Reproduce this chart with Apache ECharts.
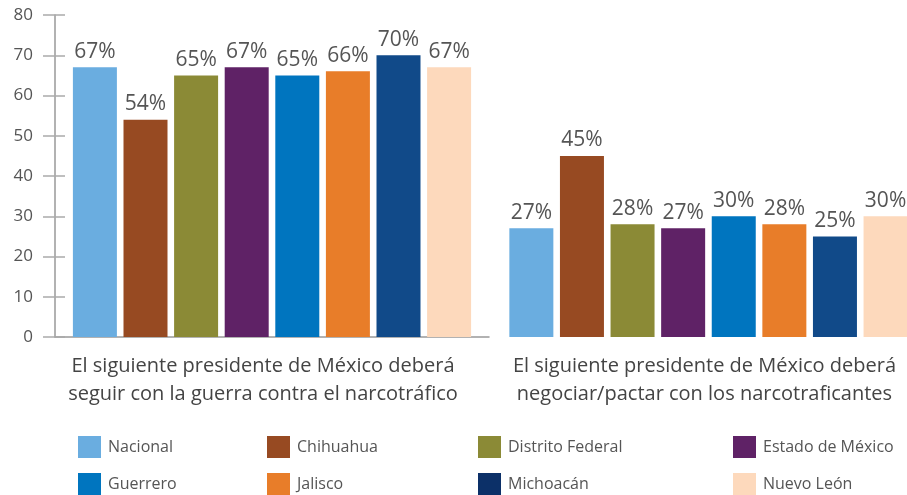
<!DOCTYPE html>
<html>
<head>
<meta charset="utf-8">
<script src="https://cdn.jsdelivr.net/npm/echarts@6/dist/echarts.min.js"></script>
<style>html,body{margin:0;padding:0;background:#fff;}#c{width:907px;height:495px;}</style>
</head>
<body>
<div id="c"></div>
<script>
var categories = [
  'El siguiente presidente de México deberá\nseguir con la guerra contra el narcotráfico',
  'El siguiente presidente de México deberá\nnegociar/pactar con los narcotraficantes'
];
var regions = ['Nacional','Chihuahua','Distrito Federal','Estado de México','Guerrero','Jalisco','Michoacán','Nuevo León'];
var guerraValues = [67,54,65,67,65,66,70,67];
var negociarValues = [27,45,28,27,30,28,25,30];
var barColors = ['#6aade0','#974a22','#8b8a36','#5f2266','#0075bf','#e87d29','#114a89','#fdd9bc'];
var legendColors = ['#6aade0','#974a22','#8b8a36','#5f2266','#0075bf','#e87d29','#0c3068','#fdd9bc'];
var yMin = 0, yMax = 80, yInterval = 10;
var legendColumns = [['Nacional','Guerrero'],['Chihuahua','Jalisco'],['Distrito Federal','Michoacán'],['Estado de México','Nuevo León']];
var legendLefts = [78, 267, 478, 733];

var FONT = '"Open Sans", sans-serif';
var chart = echarts.init(document.getElementById('c'), null, {renderer:'canvas'});

function mkSeries(values, axisIdx, yIdx) {
  return regions.map(function(name, i) {
    return {
      name: name, type: 'bar', xAxisIndex: axisIdx, yAxisIndex: yIdx,
      barWidth: 44, barGap: '15%', clip: false,
      itemStyle: {color: barColors[i]},
      label: {show: true, position: 'top', distance: 5, formatter: '{c}%',
              color: '#555', fontSize: 21, fontFamily: FONT},
      data: [values[i]]
    };
  });
}

var legends = legendColumns.map(function(col, k) {
  return {
    orient: 'vertical', left: legendLefts[k], top: 436, padding: 0,
    itemWidth: 23, itemHeight: 22, itemGap: 15, icon: 'rect',
    selectedMode: false,
    textStyle: {fontSize: 16, color: '#555', fontFamily: FONT, padding: [0,0,0,2]},
    data: col.map(function(n) {
      return {name: n, itemStyle: {color: legendColors[regions.indexOf(n)]}};
    })
  };
});

function xLabel(pad) {
  return {fontSize: 20, color: '#444', fontFamily: FONT, lineHeight: 28, margin: 15, interval: 0, padding: pad};
}

chart.setOption({
  animation: false,
  legend: legends,
  grid: [
    {left: 55, width: 434, top: 15, bottom: 158},
    {left: 511, width: 396, top: 15, bottom: 158}
  ],
  xAxis: [
    {type: 'category', gridIndex: 0, data: [categories[0]],
     axisLine: {lineStyle: {color: '#999', width: 1.5}}, axisTick: {show: false}, axisLabel: xLabel([0,18,0,0])},
    {type: 'category', gridIndex: 1, data: [categories[1]],
     axisLine: {show: false}, axisTick: {show: false}, axisLabel: xLabel([0,8,0,0])}
  ],
  yAxis: [
    {type: 'value', gridIndex: 0, min: yMin, max: yMax, interval: yInterval,
     axisLine: {show: true, lineStyle: {color: '#999', width: 1.5}},
     axisTick: {show: true, length: 12, lineStyle: {color: '#aaa', width: 1.5}},
     axisLabel: {fontSize: 17, color: '#555', fontFamily: FONT, margin: 22},
     splitLine: {show: false}},
    {type: 'value', gridIndex: 0, min: yMin, max: yMax, interval: yInterval, position: 'left',
     axisLine: {show: false},
     axisTick: {show: true, inside: true, length: 10, lineStyle: {color: '#aaa', width: 1.5}},
     axisLabel: {show: false}, splitLine: {show: false}},
    {type: 'value', gridIndex: 1, min: yMin, max: yMax, interval: yInterval, show: false,
     splitLine: {show: false}}
  ],
  series: mkSeries(guerraValues, 0, 0).concat(mkSeries(negociarValues, 1, 2))
});
</script>
</body>
</html>
